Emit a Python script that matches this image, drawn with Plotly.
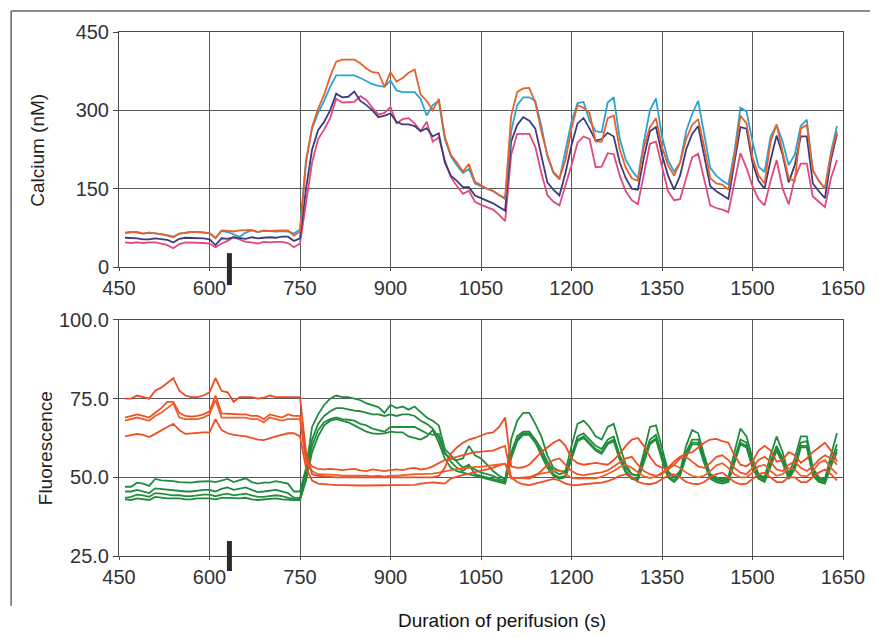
import plotly.graph_objects as go

# time axis (s), one sample every 10 s
time_s = list(range(460, 1650, 10))

# ---- Calcium (nM) ----
ca_orange = ([65, 67, 67, 64, 66, 65, 63, 60, 57, 64, 66, 67, 67, 66, 65, 55, 70, 69, 68, 70,
              70, 71, 67, 70, 69, 70, 70, 70, 60, 68]
             + [200, 268, 303, 330, 365, 393, 397, 397, 397, 390, 380, 373, 372, 345, 373, 355, 362, 372, 378, 330,
                318, 300, 322, 250, 215, 200, 183, 197, 163, 157, 150, 146, 138, 132]
             + [290, 335, 342, 343, 315, 260, 215, 182, 170, 205, 265, 310, 305, 295, 240, 240, 285, 290, 225, 190,
                170, 165, 230, 268, 285, 230, 195, 175, 200, 245, 272, 283, 230, 170, 160, 158, 148, 210, 290, 275,
                210, 175, 160, 240, 273, 220, 170, 165, 265, 272, 185, 165, 150, 215, 260])
ca_cyan = ([66, 67, 66, 64, 66, 65, 63, 61, 58, 64, 66, 67, 67, 66, 65, 56, 69, 67, 62, 58,
            66, 70, 67, 69, 69, 68, 69, 68, 64, 72]
           + [205, 265, 295, 318, 345, 367, 367, 367, 367, 362, 356, 350, 347, 345, 357, 338, 335, 335, 335, 322,
              290, 310, 318, 245, 212, 195, 180, 188, 160, 155, 150, 145, 138, 130]
           + [260, 310, 325, 325, 318, 270, 212, 180, 168, 220, 278, 314, 316, 280, 260, 258, 315, 325, 245, 205,
              185, 170, 240, 300, 323, 250, 205, 182, 200, 260, 293, 318, 250, 190, 175, 165, 158, 220, 305, 298,
              240, 192, 182, 250, 272, 240, 195, 215, 270, 282, 185, 165, 150, 220, 270])
ca_navy = ([56, 56, 55, 53, 53, 55, 54, 52, 47, 54, 56, 56, 55, 55, 53, 42, 55, 54, 57, 55,
            54, 57, 55, 56, 57, 56, 58, 58, 50, 55]
           + [150, 225, 262, 278, 300, 332, 325, 326, 336, 318, 310, 300, 287, 290, 294, 278, 273, 273, 270, 260,
              266, 250, 256, 200, 175, 165, 153, 153, 137, 132, 127, 122, 115, 108]
           + [240, 272, 287, 280, 265, 215, 162, 148, 137, 180, 233, 275, 285, 265, 242, 245, 257, 250, 200, 170,
              150, 148, 210, 260, 268, 215, 175, 148, 175, 225, 255, 270, 210, 155, 145, 138, 130, 200, 268, 265,
              200, 165, 150, 205, 252, 215, 162, 195, 250, 250, 160, 145, 132, 205, 255])
ca_pink = ([47, 46, 47, 46, 47, 47, 45, 42, 36, 44, 47, 47, 46, 46, 45, 38, 45, 50, 57, 52,
            48, 47, 45, 48, 47, 48, 48, 46, 38, 45]
           + [120, 200, 245, 263, 285, 322, 315, 315, 316, 327, 320, 305, 292, 295, 306, 275, 283, 285, 275, 260,
              278, 240, 248, 205, 172, 155, 140, 146, 125, 119, 115, 110, 100, 88]
           + [215, 255, 255, 255, 230, 180, 138, 125, 118, 155, 195, 238, 250, 245, 191, 192, 218, 216, 175, 145,
              128, 120, 180, 236, 240, 190, 145, 128, 130, 170, 210, 217, 170, 118, 113, 110, 105, 160, 218, 190,
              155, 130, 118, 165, 205, 150, 120, 170, 198, 198, 135, 125, 115, 170, 205])

# ---- Fluorescence ----
fl_green1 = ([47, 47, 48.3, 48, 47.3, 49.5, 49, 49, 48.8, 48.5, 48.3, 48.3, 48.6, 48.8, 48.8, 48.5, 49, 49.5, 48.5, 49,
              49.7, 48.5, 48, 48.3, 48.3, 48.8, 48.5, 48, 45.5, 45.5]
             + [53, 66, 70, 73, 75, 76, 75.5, 75.5, 75, 74.5, 73.5, 72.8, 72.3, 70.5, 73, 72, 72.5, 71.5, 72.5, 70.7,
                69, 68, 66.5, 59, 57, 55, 53, 54, 51, 50.5, 50, 49.5, 49, 48.5]
             + [62, 68, 70.5, 70.5, 67, 63, 57, 53, 52, 52, 60, 67, 68, 66, 63, 62, 66, 67, 60, 54,
                51, 50.5, 58, 66, 66.5, 59, 52, 50, 52, 60, 65, 64, 57, 51, 50, 49.5, 50, 58, 65.5, 63,
                56, 51, 50, 57, 63, 58, 51, 56, 63, 63, 53, 50, 49.5, 57, 64])
fl_green2 = ([45.5, 45.5, 46, 45.5, 45, 46.5, 46.3, 46, 46, 45.8, 45.5, 45.5, 45.8, 46, 46, 45.5, 46.3, 46.8, 46, 46.3,
              46.8, 46, 45.3, 45.5, 45.8, 46, 45.5, 45, 43.5, 43.5]
             + [52, 62, 67, 69.5, 71, 72, 72, 71.5, 71.2, 71, 70.5, 70, 70, 69.5, 70, 69.5, 70, 70, 69.5, 68,
                67, 65.5, 62.5, 57.5, 56, 55.5, 56, 60, 57, 56, 54, 52, 50.5, 49.5]
             + [58, 63, 64.5, 64.5, 62, 59, 55, 52, 51, 51.5, 57, 63, 64, 62, 60, 59, 62, 63, 57, 53,
                51, 50.5, 56, 62, 63.5, 57, 51.5, 50, 51.5, 58, 62, 62, 56, 50.5, 49.5, 49, 49.5, 56, 62, 61,
                54.5, 50.5, 49.5, 55, 60, 56, 50.5, 54, 61, 61.5, 52, 49.5, 49, 55, 60.5])
fl_green3 = ([43.5, 43.8, 44.5, 44.3, 43.8, 45, 44.8, 44.5, 44.3, 44.3, 44, 44, 44.3, 44.5, 44.5, 44, 44.5, 44.8, 44.3, 44.5,
              44.8, 44.3, 43.8, 43.8, 44, 44.3, 44, 43.5, 43, 43]
             + [50, 60, 65, 67.5, 68.5, 69, 68.5, 68.3, 68, 67, 66.5, 65.5, 65, 64.5, 66, 66, 66, 66, 66, 65,
                64, 63.5, 63.8, 58, 55, 53, 52, 53.5, 52.5, 51.5, 51, 50.5, 49.5, 49]
             + [57, 62, 64, 64, 61.5, 58, 54, 51, 50, 50.5, 56, 62, 63, 61, 59, 58, 61, 62, 56, 52,
                50, 49.5, 55, 61, 62.5, 56, 50.5, 49, 51, 57, 61, 61, 55, 50, 49, 48.5, 49, 55, 61, 60,
                53.5, 50, 49, 54, 59, 55, 50, 53, 60, 60, 51, 49, 48.5, 54, 59])
fl_green4 = ([43, 42.8, 43.3, 43, 42.8, 43.8, 43.5, 43.3, 43.3, 43.3, 43, 43, 43.3, 43.3, 43.3, 43, 43.5, 43.5, 43.3, 43.3,
              43.5, 43, 42.8, 43, 43, 43.3, 43, 42.8, 42.8, 42.8]
             + [49, 58, 63, 66.5, 68, 68.5, 68, 67.5, 66.5, 65.5, 64.5, 64, 63.8, 64, 64.5, 64.3, 64.3, 63, 62.5, 62,
                63, 65, 61, 56, 53, 52, 51.5, 51, 50.5, 50, 49.5, 49, 48.5, 48]
             + [56, 61.5, 63.5, 63.5, 61, 57, 53, 50.5, 49.5, 50, 55.5, 61.5, 62.5, 60.5, 58.5, 57.5, 60.5, 61.5, 55.5, 51.5,
                49.5, 49, 54.5, 60.5, 62, 55.5, 50, 48.5, 50.5, 56.5, 60.5, 60.5, 54.5, 49.5, 48.5, 48, 48.5, 54.5, 60.5, 59.5,
                53, 49.5, 48.5, 53.5, 58.5, 54.5, 49.5, 52.5, 59.5, 59.5, 50.5, 48.5, 48, 53.5, 58])
fl_red1 = ([75, 75, 76, 75.5, 75, 77.5, 78.5, 80, 81.5, 77.5, 76, 75.5, 75.5, 76, 77, 81.5, 77.5, 77, 74, 75.5,
            75.5, 75.5, 75, 75.3, 76, 75.5, 75.5, 75.5, 75.5, 75.5]
           + [58, 51, 50.5, 50.3, 50, 50, 50, 50, 50, 50, 50, 50, 49.8, 49.8, 50, 50, 50, 50, 50, 50,
              50, 50, 50.5, 53, 57.5, 59.5, 61, 62, 62.5, 63.3, 64, 64.3, 66, 69]
           + [53.5, 53, 53.2, 54, 56, 58, 59.5, 61, 62, 60, 56, 54.5, 54, 54.3, 54.6, 54.3, 54, 55.5, 57.5, 60,
              62, 62.5, 60, 56.5, 54, 53, 53, 55, 56.5, 57.5, 58, 59.5, 61, 62, 62.2, 61.5, 61, 57, 54, 53.5,
              55, 58.5, 60, 58.5, 55, 55.5, 58, 57, 54.6, 56, 58, 59.5, 61, 58.5, 55])
fl_red2 = ([69, 69.5, 70, 69.5, 69, 70.5, 72, 74, 74, 70.5, 69.5, 69.3, 69.5, 70, 71, 76, 70.3, 70.2, 70, 70,
            70, 69.5, 69.5, 68.5, 70, 69.5, 69, 70, 69.5, 69.5]
           + [56, 53.5, 52.7, 52.5, 52.7, 52.5, 52.3, 52.5, 52.7, 52.2, 52, 52.5, 52.3, 52, 52.3, 52.5, 52.3, 52.8, 53, 52.5,
              52.8, 53.5, 54.5, 55.5, 56, 56.5, 57, 57.5, 58, 58.2, 58.4, 58.5, 59.3, 60]
           + [50, 49.8, 49.6, 49.6, 50.5, 52, 54, 55.5, 56, 54, 52, 51, 50.6, 51, 51.2, 51.6, 52.2, 53.5, 54.9, 56,
              56.5, 54, 52, 51, 50.5, 51, 52.5, 54, 56, 56.5, 55, 53.5, 53, 54.5, 56.5, 57, 55.5, 53, 51.5, 51,
              53, 55.5, 56.5, 55, 52.5, 52, 54, 55, 53, 52, 53.5, 55.5, 57, 56, 54])
fl_red3 = ([68, 68.5, 69, 68.5, 68, 69.5, 70.5, 72, 73.5, 69, 68.5, 68.5, 68.5, 69, 70, 74.5, 69, 69, 69, 69,
            69, 68.5, 68.5, 67.5, 69, 68.5, 68, 68.5, 68.5, 68.5]
           + [55, 52, 51, 51, 50.8, 50.8, 50.5, 50.5, 50.7, 50.5, 50.5, 50.3, 50.5, 50.2, 50.5, 50.5, 50.7, 50.7, 51, 51,
              51, 51.2, 51.5, 52, 52.3, 52.6, 52.7, 53, 53.3, 53.3, 53.6, 53.8, 54, 54.3]
           + [49.6, 49.8, 50, 50.1, 50.8, 51.2, 51.7, 52, 52.2, 51, 49.8, 49.6, 49.6, 49.6, 49.7, 50.2, 51, 52, 53.3, 54,
              53, 51.5, 50.3, 49.8, 50.2, 51.5, 53, 54, 53, 51.5, 50.5, 50, 50.5, 52, 53.8, 54.5, 53, 51, 50, 50,
              51.5, 53.5, 54, 52, 50.5, 51, 53, 52.5, 50.5, 50.3, 52, 54.5, 55.5, 53, 51])
fl_red4 = ([63, 63.3, 63.8, 63.5, 62.8, 63.8, 65, 66, 67, 65, 63.8, 64, 64.2, 64.3, 64.3, 68.5, 65, 64, 63.5, 63.3,
            63, 62.5, 62, 61.8, 62.5, 63, 63.5, 64, 64, 63]
           + [53, 49, 48, 47.8, 47.6, 47.5, 47.5, 47.4, 47.4, 47.4, 47.4, 47.4, 47.4, 47.4, 47.4, 47.4, 47.4, 47.4, 47.6, 48,
              48.2, 48.4, 48.2, 48, 49.6, 50.3, 50.8, 51.2, 51.7, 52, 52.5, 53, 53.8, 54.3]
           + [50, 48.5, 47.8, 47.5, 48, 48.5, 49, 49.5, 49, 48, 47.5, 47.5, 47.8, 48, 48, 48.3, 48.8, 49.5, 50.5, 51,
              50, 48.5, 48, 47.8, 48.2, 49.5, 50.5, 51, 50, 48.5, 48, 47.8, 48.5, 50, 51, 51.5, 50, 48.5, 47.8, 48,
              49.5, 51, 51.5, 50, 48.5, 48.5, 50, 50, 48.5, 48.5, 50, 51.5, 52.5, 51, 49])

stim_time = 633  # marker bar position (s)

x_ticks = [450, 600, 750, 900, 1050, 1200, 1350, 1500, 1650]
ca_ticks = [0, 150, 300, 450]
fl_ticks = [25, 50, 75, 100]

fig = go.Figure()

ca_series = [(ca_pink, "#e0487f"), (ca_navy, "#3d3b7c"), (ca_cyan, "#2ca2d4"), (ca_orange, "#e8612a")]
for ys, col in ca_series:
    fig.add_trace(go.Scatter(x=time_s, y=ys, mode="lines", line=dict(color=col, width=1.8),
                             xaxis="x", yaxis="y", showlegend=False))

fl_series = [(fl_green4, "#1f8a3c"), (fl_green3, "#23903f"), (fl_green2, "#1f8a3c"), (fl_green1, "#218c3d"),
             (fl_red4, "#ef4d22"), (fl_red3, "#f0602a"), (fl_red2, "#ee5225"), (fl_red1, "#ef4a23")]
for ys, col in fl_series:
    fig.add_trace(go.Scatter(x=time_s, y=ys, mode="lines", line=dict(color=col, width=1.8),
                             xaxis="x2", yaxis="y2", showlegend=False))

tickfont = dict(family="Liberation Sans, Arial, sans-serif", size=20, color="#333333")
common_x = dict(range=[450, 1650], tickvals=x_ticks, showgrid=True, gridcolor="#5a5a5a", gridwidth=1,
                showline=True, linecolor="#4a4a4a", linewidth=1, mirror=True, zeroline=False,
                ticks="outside", ticklen=3, tickcolor="#4a4a4a", tickfont=tickfont)
common_y = dict(showgrid=True, gridcolor="#5a5a5a", gridwidth=1, showline=True, linecolor="#4a4a4a",
                linewidth=1, mirror=True, zeroline=False, ticks="outside", ticklen=5,
                tickcolor="#4a4a4a", tickfont=tickfont)

# the page body adds an 8 px margin, so the figure is 8 px smaller each way
fig.update_layout(
    width=870, height=629,
    margin=dict(l=111, r=35, t=24, b=81, autoexpand=False),
    paper_bgcolor="white", plot_bgcolor="white",
    xaxis=dict(domain=[0, 1], anchor="y", **common_x),
    yaxis=dict(domain=[0.5515, 1], anchor="x", range=[0, 450], tickvals=ca_ticks, **common_y),
    xaxis2=dict(domain=[0, 1], anchor="y2", **common_x),
    yaxis2=dict(domain=[0, 0.4504], anchor="x2", range=[25, 100], tickvals=fl_ticks,
                tickformat=".1f", **common_y),
    font=dict(family="Liberation Sans, Arial, sans-serif"),
)

shapes = [
    # stimulus marker bars
    dict(type="line", xref="x", yref="paper", x0=stim_time, x1=stim_time, y0=0.517, y1=0.578,
         line=dict(color="#2a2a2a", width=5)),
    dict(type="line", xref="x2", yref="paper", x0=stim_time, x1=stim_time, y0=-0.0286, y1=0.0286,
         line=dict(color="#2a2a2a", width=5)),
    # scan frame (top and left edges)
    dict(type="line", xref="paper", yref="paper", x0=-0.149, x1=1.05, y0=1.040, y1=1.040,
         line=dict(color="#666666", width=1.5)),
    dict(type="line", xref="paper", yref="paper", x0=-0.149, x1=-0.149, y0=1.040, y1=-0.095,
         line=dict(color="#666666", width=1.5)),
]
fig.update_layout(shapes=shapes)

axis_title_font = dict(family="Liberation Sans, Arial, sans-serif", size=19, color="#222222")
fig.add_annotation(text="Calcium (nM)", xref="paper", yref="paper", x=-0.112, y=0.775,
                   textangle=-90, showarrow=False, xanchor="center", yanchor="middle",
                   font=axis_title_font)
fig.add_annotation(text="Fluorescence", xref="paper", yref="paper", x=-0.102, y=0.206,
                   textangle=-90, showarrow=False, xanchor="center", yanchor="middle",
                   font=axis_title_font)
fig.add_annotation(text="Duration of perifusion (s)", xref="paper", yref="paper", x=0.529, y=-0.124,
                   showarrow=False, xanchor="center", yanchor="middle",
                   font=dict(family="Liberation Sans, Arial, sans-serif", size=19, color="#111111"))

fig.write_html("out.html")
